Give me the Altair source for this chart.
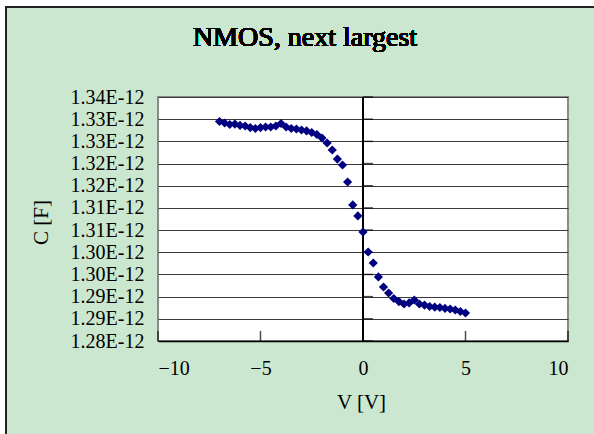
import altair as alt
import pandas as pd

# ---- data ----
V = [-7.00, -6.75, -6.50, -6.25, -6.00, -5.75, -5.50, -5.25, -5.00, -4.75,
     -4.50, -4.25, -4.00, -3.75, -3.50, -3.25, -3.00, -2.75, -2.50, -2.25,
     -2.00, -1.75, -1.50, -1.25, -1.00, -0.75, -0.50, -0.25, 0.00, 0.25,
     0.50, 0.75, 1.00, 1.25, 1.50, 1.75, 2.00, 2.25, 2.50, 2.75,
     3.00, 3.25, 3.50, 3.75, 4.00, 4.25, 4.50, 4.75, 5.00]
C = [1.32948, 1.32914, 1.32880, 1.32891, 1.32858, 1.32846, 1.32812, 1.32790, 1.32812, 1.32824,
     1.32824, 1.32846, 1.32903, 1.32824, 1.32790, 1.32779, 1.32756, 1.32734, 1.32700, 1.32655,
     1.32576, 1.32463, 1.32305, 1.32102, 1.31967, 1.31584, 1.31066, 1.30818, 1.30457, 1.30006,
     1.29758, 1.29443, 1.29217, 1.29082, 1.28958, 1.28890, 1.28834, 1.28857, 1.28924, 1.28834,
     1.28811, 1.28778, 1.28766, 1.28755, 1.28733, 1.28721, 1.28699, 1.28665, 1.28631]  # x 1e-12 F

X_TICKS = [-10, -5, 0, 5, 10]
Y_TICKS = [1.280, 1.285, 1.290, 1.295, 1.300, 1.305, 1.310, 1.315, 1.320, 1.325, 1.330, 1.335]
TITLE = "NMOS, next largest"
X_TITLE = "V [V]"
Y_TITLE = "C [F]"

FONT = "Liberation Serif"
W, H = 410, 244

df = pd.DataFrame({"V": V, "C": C})
xt = pd.DataFrame({"V": X_TICKS})
yt = pd.DataFrame({"C": Y_TICKS})

xscale = alt.Scale(domain=[-10, 10], nice=False, zero=False)
yscale = alt.Scale(domain=[1.28, 1.335], nice=False, zero=False)

xaxis = alt.Axis(values=X_TICKS, tickCount=len(X_TICKS), grid=False, ticks=False, domain=True,
                 domainColor="#000000", domainWidth=1.5, labelOverlap=False,
                 labelFont=FONT, labelFontSize=20, labelColor="#000000", labelPadding=17,
                 title=X_TITLE, titleFont=FONT, titleFontSize=21, titleFontWeight="normal",
                 titleColor="#000000", titleX=203, titleY=61, titleAlign="center",
                 titleBaseline="middle")
yaxis = alt.Axis(values=Y_TICKS, tickCount=len(Y_TICKS), grid=True, gridColor="#3a3a3a",
                 gridWidth=1.2, ticks=False, domain=False, labelOverlap=False,
                 labelFont=FONT, labelFontSize=20, labelColor="#000000", labelPadding=14,
                 labelExpr="format(datum.value + 0.000001, '.2f') + 'E-12'",
                 title=Y_TITLE, titleFont=FONT, titleFontSize=21, titleFontWeight="normal",
                 titleColor="#000000", titleX=-117, titleY=125, titleAngle=270,
                 titleAlign="center", titleBaseline="middle")

X = alt.X("V:Q", scale=xscale, axis=xaxis)
Y = alt.Y("C:Q", scale=yscale, axis=yaxis)

# decorative outer frame (white margin strips + dark border lines)
strip_left = alt.Chart(df).mark_rect(color="white").encode(
    x=alt.value(-158), x2=alt.value(-152), y=alt.value(-97), y2=alt.value(H + 93))
strip_top = alt.Chart(df).mark_rect(color="white").encode(
    x=alt.value(-158), x2=alt.value(W + 26), y=alt.value(-97), y2=alt.value(-91))
frame_left = alt.Chart(df).mark_rule(color="#222222", strokeWidth=2).encode(
    x=alt.value(-152), y=alt.value(-91), y2=alt.value(H + 93))
frame_top = alt.Chart(df).mark_rule(color="#222222", strokeWidth=2).encode(
    x=alt.value(-152), x2=alt.value(W + 26), y=alt.value(-90))

title = alt.Chart(df).mark_text(text=TITLE, font=FONT, fontSize=28, color="#000000",
                                fontWeight="normal", align="center", baseline="middle").encode(
    x=alt.value(147), y=alt.value(-59))

zero_line = alt.Chart(df).mark_rule(color="#000000", strokeWidth=1.5).encode(
    x=alt.datum(0), y=alt.value(0), y2=alt.value(H))

x_ticks = alt.Chart(xt).mark_tick(color="#000000", orient="vertical", size=10,
                                  thickness=1.5, yOffset=-5).encode(
    x=X, y=alt.datum(1.28))
y_ticks = alt.Chart(yt).mark_tick(color="#000000", orient="horizontal", size=10,
                                  thickness=1.5, xOffset=5).encode(
    y=Y, x=alt.datum(0))

points = alt.Chart(df).mark_point(shape="diamond", filled=True, size=85,
                                  color="#000080", opacity=1).encode(x=X, y=Y)

chart = alt.layer(strip_left, strip_top, frame_left, frame_top, title,
                  zero_line, x_ticks, y_ticks, points).properties(
    width=W, height=H,
    background="#cce7cf",
    padding={"left": 158, "top": 97, "right": 26, "bottom": 93},
    autosize=alt.AutoSizeParams(type="none"),
).configure_view(fill="white", stroke="#8a8a8a", strokeWidth=2)

chart.save("out.html", embed_options={"renderer": "svg", "actions": False})
